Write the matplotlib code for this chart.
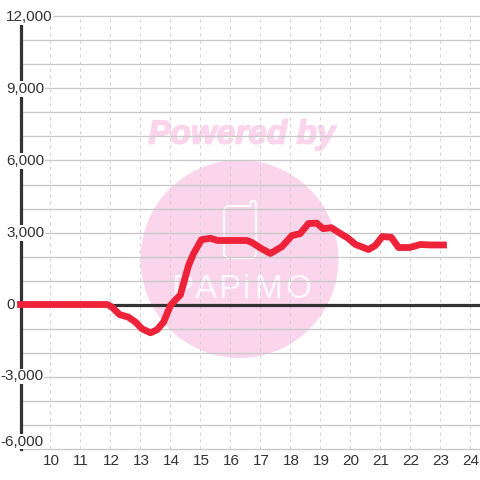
import matplotlib
matplotlib.use("Agg")
import matplotlib.pyplot as plt
from matplotlib.patches import Circle, Polygon
import matplotlib.patheffects as pe

plt.rcParams['font.family'] = ['Liberation Sans', 'DejaVu Sans']

hours = [9, 11.9, 12.05, 12.3, 12.6, 12.83, 13.05, 13.33, 13.55, 13.77, 14.0, 14.17, 14.33,
         14.6, 14.77, 15.03, 15.33, 15.57, 16.0, 16.55, 16.72, 17.0, 17.33, 17.72, 18.05, 18.32,
         18.6, 18.87, 19.09, 19.36, 19.67, 19.9, 20.17, 20.6, 20.83, 21.06, 21.36, 21.6, 21.97,
         22.33, 22.67, 23.1]
values = [0, 0, -110, -417, -530, -730, -1010, -1180, -1055, -730, -40, 200, 400,
          1625, 2125, 2700, 2760, 2667, 2667, 2667, 2580, 2350, 2125, 2417, 2875, 2950,
          3375, 3390, 3160, 3200, 2950, 2780, 2500, 2290, 2460, 2830, 2800, 2375, 2375,
          2500, 2480, 2480]
y_ticks = [12000, 9000, 6000, 3000, 0, -3000, -6000]
x_ticks = [10, 11, 12, 13, 14, 15, 16, 17, 18, 19, 20, 21, 22, 23, 24]
minor_y = list(range(-6000, 12001, 1000))
logo_letters = ['P', 'A', 'P', 'i', 'M', 'O']

WMARK = '#fbd5ec'
RED = '#ee2238'
INK = '#333333'
GRID = '#c8c8c8'

fig = plt.figure(figsize=(4.8, 4.8), dpi=100, facecolor='white')
ax = fig.add_axes([20.5/480, 31.5/480, (480-20.5)/480, 432/480])
ax.set_xlim(9, 24.317)
ax.set_ylim(-6000, 12000)
ax.set_facecolor('none')
for s in ax.spines.values():
    s.set_visible(False)
ax.set_xticks([])
ax.set_yticks([])

def P(x, y):
    return (x/480, 1 - y/480)

# watermark
fig.patches.append(Circle(P(239.5, 259), 99/480, transform=fig.transFigure, fc=WMARK, ec='none', zorder=-5))
fig.text(*P(242, 135), 'Powered by', color=WMARK, fontsize=24, fontweight='bold', style='italic',
         ha='center', va='center', zorder=-4,
         path_effects=[pe.withStroke(linewidth=1.1, foreground=WMARK)])
icon = [(227, 206), (250, 206), (250, 203), (252, 201), (254, 201), (256, 203), (256, 255), (253, 258),
        (227, 258), (224, 255), (224, 209)]
fig.patches.append(Polygon([P(*p) for p in icon], closed=True, transform=fig.transFigure,
                           fc='none', ec='white', lw=1.4, joinstyle='round', zorder=-4))
for ch, cx in zip(logo_letters, [182, 206, 229, 246, 268, 298]):
    fig.text(*P(cx, 289), ch, color='white', fontsize=24, family='Liberation Sans', alpha=0.85,
             ha='center', va='center', zorder=-4)

for v in minor_y:
    ax.axhline(v, color=GRID, lw=0.95, zorder=1, clip_on=False)
for h in x_ticks:
    ax.axvline(h, color='#d0d0d0', lw=0.72, ls=(0, (3, 4)), zorder=1)
ax.axhline(0, color=INK, lw=2.3, zorder=2)
ax.axvline(9, color=INK, lw=2.3, zorder=2, clip_on=False)
ax.plot(hours, values, color=RED, lw=4.9, solid_capstyle='projecting', solid_joinstyle='round',
        zorder=3, clip_on=False)

bb = dict(facecolor='white', edgecolor='none', pad=0.5)
for v in y_ticks:
    label = f'{v:,}'
    y = 480 - (31.5 + (v + 6000) * 432 / 18000)
    if v == -6000:
        y = 441.5
    if v < 0:
        fig.text(*P(43.5, y), label, ha='right', va='center', fontsize=11, color=INK, bbox=bb, zorder=5)
    else:
        fig.text(*P(6, y + 0.5), label, ha='left', va='center', fontsize=11, color=INK, bbox=bb, zorder=5)
for h in x_ticks:
    x = 20.5 + (h - 9) * 30
    fig.text(*P(x + 0.5, 461), str(h), ha='center', va='center', fontsize=11, color=INK)

fig.savefig('out.png', dpi=100, facecolor='white')
